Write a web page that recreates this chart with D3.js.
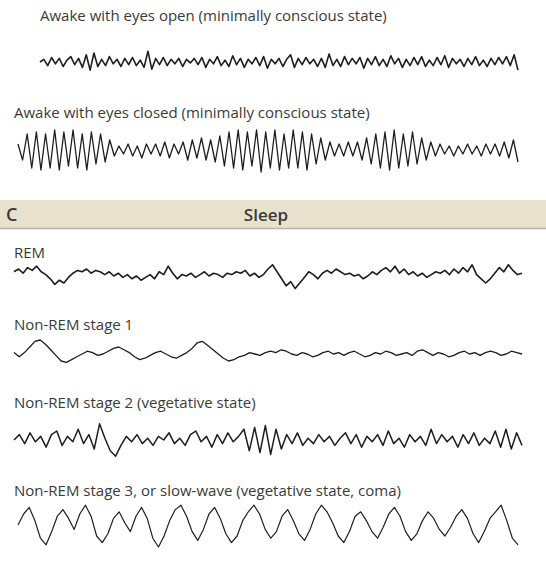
<!DOCTYPE html><html><head><meta charset="utf-8">
<script src="https://cdn.jsdelivr.net/npm/d3@7"></script>
<style>body{margin:0;background:#fff}text{font-family:"Open Sans",sans-serif;fill:#3a3a3a}</style></head><body>
<svg id="c" width="546" height="566"></svg>
<script>
const labels=["Awake with eyes open (minimally conscious state)","Awake with eyes closed (minimally conscious state)","REM","Non-REM stage 1","Non-REM stage 2 (vegetative state)","Non-REM stage 3, or slow-wave (vegetative state, coma)"];
const eyesOpen=[0,.3,-.4,.5,-.2,.4,-.5,.2,.6,-.3,.4,-.6,.8,-.9,1,-.5,.3,-.4,.6,-.2,.3,-.5,.4,-.3,.5,-.4,.2,-.6,1.2,-.8,.4,-.3,.5,-.4,.3,-.2,.4,-.5,.3,-.1,.4,-.3,.5,-.6,.3,-.2,.6,-.4,.2,-.5,.7,-.3,.4,-.6,.3,-.2,.5,-.4,.6,-.7,.3,-.2,.4,-.5,.3,.8,-.6,.4,-.3,.5,-.2,.3,-.5,.4,-.6,.9,-.4,.3,-.5,.6,-.3,.4,-.2,.5,-.7,.4,-.3,.6,-.4,.3,-.5,.7,-.2,.4,-.6,.3,-.4,.5,-.3,.6,-.5,.2,-.4,.5,-.3,.7,-.6,.4,-.2,.3,-.5,.4,-.3,.6,-.4,.2,-.5,.4,-.3,.5,-.2,.6,-.4,.8,-.9];
const eyesClosed=[.3,-.5,.8,-.9,.9,-1,.8,-.9,1,-1,.9,-.8,1,-.9,.8,-1,.9,-.7,.8,-.6,.5,-.3,.2,-.2,.3,-.3,.2,-.4,.3,-.2,.3,-.3,.4,-.4,.3,-.2,.4,-.5,.5,-.4,.6,-.5,.5,-.6,.7,-.8,.9,-.9,1,-1,.9,-.8,1,-1.1,.9,-.9,1,-1,.8,-.9,1,-.9,.9,-1,.8,-.7,.6,-.5,.4,-.3,.3,-.3,.4,-.3,.4,-.5,.6,-.7,.8,-.9,.9,-1,1,-.9,.8,-.8,.9,-.7,.6,-.5,.4,-.3,.3,-.2,.2,-.3,.2,-.2,.3,-.2,.2,-.3,.3,-.2,.3,-.3,.4,-.4,.5,-.6];
const rem=[.3,.5,.2,.6,.4,.7,.3,.1,-.2,-.6,-.3,-.5,-.1,.2,.4,.3,.5,.2,.4,.3,.1,.3,0,.2,-.1,.1,-.2,0,-.3,-.1,.1,-.2,.3,.1,.7,.2,-.2,.1,0,.2,-.1,.1,.3,0,.2,.1,-.1,.2,.1,.3,.2,.4,0,.2,-.1,.1,.5,.8,.3,-.2,-.7,-.4,-.9,-.5,-.1,.3,.1,-.2,.2,.4,.2,.5,.3,.1,.2,0,.1,-.2,0,.3,.1,.4,.6,.3,.7,.2,.5,.1,.3,0,.2,-.1,.1,.3,.2,.4,.1,.5,.2,.6,.3,.8,.1,-.2,-.5,-.2,.2,.6,.3,.8,.4,.1,.2];
const nrem1=[.1,-.2,.1,.5,.9,1,.7,.3,-.1,-.5,-.6,-.4,-.2,0,.2,.1,-.1,0,.2,.4,.5,.3,.1,-.2,-.4,-.3,-.1,.1,.2,0,-.2,-.3,-.1,.1,.4,.8,.9,.6,.3,0,-.3,-.5,-.4,-.2,-.1,.1,0,-.1,.1,.2,.1,.3,.2,0,-.1,.1,0,-.2,-.1,.1,.2,0,.1,-.1,.1,.2,0,-.2,-.1,.1,0,.2,.1,-.1,0,.1,-.1,.2,.3,.1,-.1,.1,0,-.2,-.1,.1,.2,0,.1,-.1,.1,.2,.1,-.1,0,.2,.1,0];
const nrem2=[0,.3,-.2,.4,-.1,.2,-.4,.3,.5,-.3,.2,-.1,.6,-.2,.3,-.5,.9,.1,-.6,-.9,-.3,.2,-.1,.3,-.2,.1,-.3,.2,0,.4,-.2,.1,-.3,.3,.5,-.1,.2,-.4,.3,-.2,.4,-.1,.2,.6,-.6,.7,-.7,.8,-.8,.6,-.5,.3,-.2,.4,-.3,.1,-.2,.3,-.1,.2,-.3,.1,.4,-.2,.3,-.4,.2,-.1,.3,-.3,.5,-.2,.1,-.4,.3,-.1,.2,-.3,.6,-.2,.3,-.1,.2,-.4,.3,-.2,.4,-.3,.1,-.2,.5,-.4,.6,-.5,.4,-.3];
const nrem3=[0,.5,.8,.2,-.6,-.9,-.3,.4,.7,.3,-.2,.5,.9,.4,-.5,-.8,-.4,.3,.6,.1,-.3,.4,.8,.3,-.6,-1,-.5,.2,.7,.9,.4,-.3,-.7,-.2,.5,.8,.3,-.4,-.8,-.5,.2,.6,.9,.5,-.2,-.6,-.3,.4,.7,.2,-.4,-.7,-.2,.5,.9,.6,.1,-.5,-.8,-.3,.4,.6,.2,-.3,-.6,-.1,.5,.8,.4,-.3,-.7,-.4,.2,.6,.3,-.2,-.5,-.1,.4,.7,.3,-.4,-.8,-.3,.3,.6,.9,.2,-.6,-.9];
const svg=d3.select("#c");
svg.append("rect").attr("x",0).attr("y",200).attr("width",546).attr("height",28).attr("fill","#e9e1cd");
svg.append("line").attr("x1",0).attr("x2",546).attr("y1",228.5).attr("y2",228.5).attr("stroke","#b9b4a8").attr("stroke-width",1.5);
svg.append("text").attr("x",6).attr("y",221).attr("font-size",18).attr("font-weight",600).attr("fill","#4a4a4a").text("C");
svg.append("text").attr("x",266).attr("y",221).attr("text-anchor","middle").attr("font-size",17).attr("font-weight",600).attr("fill","#4a4a4a").text("Sleep");
const traces=[
 {d:eyesOpen,lx:40,ly:21,x0:40,x1:518,cy:62,a:9,w:1.6},
 {d:eyesClosed,lx:14,ly:118,x0:18,x1:518,cy:150,a:20,w:1.3},
 {d:rem,lx:14,ly:258,x0:14,x1:522,cy:276,a:14,w:1.6},
 {d:nrem1,lx:14,ly:330,x0:14,x1:522,cy:354,a:14,w:1.3},
 {d:nrem2,lx:14,ly:408,x0:14,x1:522,cy:440,a:18,w:1.5},
 {d:nrem3,lx:14,ly:496,x0:18,x1:518,cy:525,a:22,w:1.2}];
traces.forEach((t,i)=>{
 svg.append("text").attr("x",t.lx).attr("y",t.ly).attr("font-size",15).attr("textLength",null).text(labels[i]);
 const x=d3.scaleLinear().domain([0,t.d.length-1]).range([t.x0,t.x1]);
 const y=d3.scaleLinear().domain([-1,1]).range([t.cy+t.a,t.cy-t.a]);
 svg.append("path").attr("d",d3.line().x((v,j)=>x(j)).y(v=>y(v))(t.d)).attr("fill","none").attr("stroke","#1e1e1e").attr("stroke-width",t.w).attr("stroke-linejoin","round");
});
</script></body></html>
